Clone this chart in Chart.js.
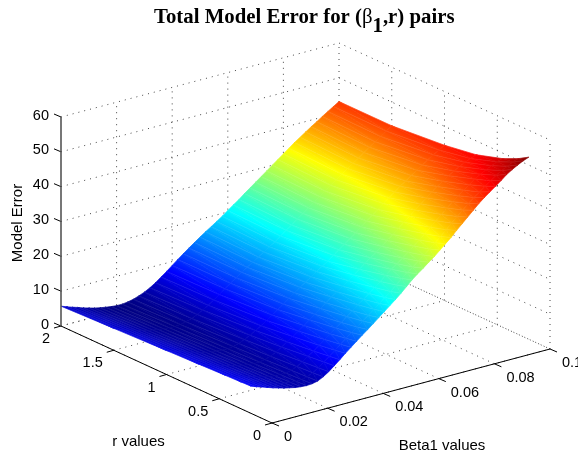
<!DOCTYPE html>
<html>
<head>
<meta charset="utf-8">
<title>Total Model Error</title>
<script src="https://cdn.jsdelivr.net/npm/chart.js@4/dist/chart.umd.min.js"></script>
<style>
  html, body { margin: 0; padding: 0; background: #fff; }
  canvas { display: block; }
</style>
</head>
<body>
<canvas id="chart" width="578" height="456"></canvas>
<script>
// values
const betaValues = [
  0, 0.002, 0.004, 0.006, 0.008, 0.01, 0.012, 0.014, 0.016, 0.018,
  0.02, 0.022, 0.024, 0.026, 0.028, 0.03, 0.032, 0.034, 0.036, 0.038,
  0.04, 0.042, 0.044, 0.046, 0.048, 0.05, 0.052, 0.054, 0.056, 0.058,
  0.06, 0.062, 0.064, 0.066, 0.068, 0.07, 0.072, 0.074, 0.076, 0.078,
  0.08, 0.082, 0.084, 0.086, 0.088, 0.09, 0.092, 0.094, 0.096, 0.098, 0.1
];
const rValues = [0.2, 0.3, 0.45, 0.7, 1, 1.5, 2];
// one row per beta value, one column per r value
const modelError = [
  [7.8, 7.67, 7.51, 7.21, 6.88, 6.29, 5.7],
  [7.2, 7.07, 6.91, 6.61, 6.28, 5.69, 5.1],
  [6.7, 6.57, 6.4, 6.1, 5.75, 5.15, 4.55],
  [6.15, 6.02, 5.86, 5.56, 5.23, 4.64, 4.05],
  [5.6, 5.47, 5.31, 5.01, 4.68, 4.09, 3.5],
  [5.15, 5.02, 4.86, 4.56, 4.23, 3.64, 3.05],
  [4.7, 4.57, 4.41, 4.11, 3.78, 3.19, 2.6],
  [4.35, 4.22, 4.06, 3.76, 3.43, 2.84, 2.25],
  [4.0, 3.88, 3.72, 3.44, 3.12, 2.56, 2.0],
  [3.8, 3.68, 3.51, 3.23, 2.9, 2.32, 1.75],
  [3.7, 3.57, 3.41, 3.11, 2.78, 2.19, 1.6],
  [3.8, 3.65, 3.45, 3.12, 2.74, 2.13, 1.6],
  [4.15, 3.99, 3.75, 3.35, 2.93, 2.27, 1.8],
  [4.95, 4.75, 4.45, 3.91, 3.38, 2.63, 2.15],
  [6.0, 5.74, 5.37, 4.71, 4.09, 3.2, 2.7],
  [7.3, 6.98, 6.51, 5.72, 4.93, 3.9, 3.35],
  [8.6, 8.2, 7.63, 6.75, 5.83, 4.73, 4.2],
  [10.0, 9.52, 8.85, 7.89, 6.78, 5.68, 5.2],
  [11.3, 10.81, 10.08, 9.05, 7.87, 6.79, 6.4],
  [12.6, 12.05, 11.25, 10.2, 9.0, 7.9, 7.6],
  [13.9, 13.3, 12.5, 11.4, 10.15, 9.15, 8.9],
  [15.1, 14.46, 13.68, 12.55, 11.33, 10.3, 10.15],
  [16.4, 15.76, 14.93, 13.8, 12.53, 11.5, 11.4],
  [17.7, 17.01, 16.18, 15.0, 13.73, 12.6, 12.6],
  [19.0, 18.3, 17.45, 16.2, 14.85, 13.6, 13.75],
  [20.3, 19.52, 18.64, 17.28, 15.88, 14.65, 14.9],
  [21.6, 20.79, 19.87, 18.47, 17.01, 15.73, 16.0],
  [23.0, 22.13, 21.14, 19.64, 18.07, 16.76, 17.05],
  [24.5, 23.56, 22.48, 20.85, 19.15, 17.79, 18.1],
  [26.0, 24.98, 23.82, 22.06, 20.22, 18.86, 19.2],
  [27.3, 26.28, 25.12, 23.36, 21.52, 20.06, 20.4],
  [28.5, 27.47, 26.29, 24.5, 22.64, 21.26, 21.6],
  [29.8, 28.74, 27.53, 25.68, 23.77, 22.35, 22.7],
  [31.0, 29.95, 28.76, 26.94, 25.05, 23.65, 24.0],
  [32.4, 31.32, 30.1, 28.22, 26.28, 24.84, 25.2],
  [33.8, 32.69, 31.43, 29.51, 27.51, 26.03, 26.4],
  [35.2, 34.06, 32.77, 30.79, 28.74, 27.22, 27.6],
  [36.8, 35.6, 34.24, 32.16, 30.0, 28.4, 28.8],
  [38.3, 37.06, 35.64, 33.49, 31.25, 29.59, 30.0],
  [39.8, 38.51, 37.05, 34.81, 32.49, 30.77, 31.2],
  [41.3, 39.97, 38.45, 36.14, 33.74, 31.96, 32.4],
  [42.8, 41.42, 39.86, 37.46, 34.98, 33.14, 33.6],
  [44.1, 42.71, 41.12, 38.71, 36.2, 34.34, 34.8],
  [45.3, 43.89, 42.29, 39.85, 37.31, 35.43, 35.9],
  [46.5, 45.08, 43.46, 40.99, 38.43, 36.53, 37.0],
  [47.7, 46.26, 44.63, 42.13, 39.54, 37.62, 38.1],
  [49.0, 47.42, 45.63, 43.06, 40.59, 38.7, 39.1],
  [50.0, 48.33, 46.47, 43.92, 41.67, 39.9, 40.2],
  [50.9, 49.15, 47.21, 44.69, 42.66, 41.0, 41.2],
  [51.7, 49.9, 47.9, 45.34, 43.63, 42.1, 42.2],
  [52.3, 50.48, 48.39, 46.02, 44.57, 43.2, 43.2]
];

const betaTicks = [0, 0.02, 0.04, 0.06, 0.08, 0.1];
const betaTickLabels = ['0', '0.02', '0.04', '0.06', '0.08', '0.1'];
const rTicks = [0, 0.5, 1, 1.5, 2];
const rTickLabels = ['0', '0.5', '1', '1.5', '2'];
const zTicks = [0, 10, 20, 30, 40, 50, 60];
const zTickLabels = ['0', '10', '20', '30', '40', '50', '60'];

// oblique view of the box, in canvas pixels
const origin = { x: 272, y: 423 };
const betaVec = { x: 278, y: -74 };  // beta 0 -> 0.1
const rVec = { x: -211, y: -97 };    // r 0 -> 2
const zHeight = 209;                 // z 0 -> 60
const betaMax = 0.1, rMax = 2, zMax = 60;

function project(b, r, z) {
  const u = b / betaMax, v = r / rMax;
  return {
    x: origin.x + u * betaVec.x + v * rVec.x,
    y: origin.y + u * betaVec.y + v * rVec.y - (z / zMax) * zHeight
  };
}

// jet colormap
const jetKnots = [
  [0, [0, 0, 128]],
  [0.125, [0, 0, 255]],
  [0.375, [0, 255, 255]],
  [0.625, [255, 255, 0]],
  [0.875, [255, 0, 0]],
  [1, [128, 0, 0]]
];
function jet(t) {
  t = Math.max(0, Math.min(1, t));
  for (let i = 1; i < jetKnots.length; i++) {
    if (t <= jetKnots[i][0]) {
      const a = jetKnots[i - 1], c = jetKnots[i];
      const f = (t - a[0]) / (c[0] - a[0]);
      const rgb = a[1].map((v, k) => Math.round(v + (c[1][k] - v) * f));
      return `rgb(${rgb[0]},${rgb[1]},${rgb[2]})`;
    }
  }
  return 'rgb(128,0,0)';
}
const allZ = modelError.flat();
const zLow = Math.min(...allZ), zHigh = Math.max(...allZ);
const colorT = (z) => (z - zLow) / (zHigh - zLow);

// gradient over one triangle, runs along the direction z grows on screen
function triangleFill(chart, tri) {
  const sx = chart.scales.x, sy = chart.scales.y;
  const zs = tri.map((p) => p.z);
  const midZ = (zs[0] + zs[1] + zs[2]) / 3;
  if (!chart.chartArea) return jet(colorT(midZ));
  const pts = tri.map((p) => ({ x: sx.getPixelForValue(p.x), y: sy.getPixelForValue(p.y), z: p.z }));
  const ax = pts[1].x - pts[0].x, ay = pts[1].y - pts[0].y, az = pts[1].z - pts[0].z;
  const bx = pts[2].x - pts[0].x, by = pts[2].y - pts[0].y, bz = pts[2].z - pts[0].z;
  const det = ax * by - ay * bx;
  const zmin = Math.min(...zs), zmax = Math.max(...zs);
  if (Math.abs(det) < 1e-6 || zmax - zmin < 1e-6) return jet(colorT(midZ));
  const gx = (az * by - ay * bz) / det;
  const gy = (ax * bz - az * bx) / det;
  const len2 = gx * gx + gy * gy;
  const low = pts[zs.indexOf(zmin)];
  const k = (zmax - zmin) / len2;
  const grad = chart.ctx.createLinearGradient(low.x, low.y, low.x + gx * k, low.y + gy * k);
  grad.addColorStop(0, jet(colorT(zmin)));
  grad.addColorStop(1, jet(colorT(zmax)));
  jetKnots.forEach(([t]) => {
    const z = zLow + t * (zHigh - zLow);
    if (z > zmin && z < zmax) grad.addColorStop((z - zmin) / (zmax - zmin), jet(t));
  });
  return grad;
}

function pointAt(i, j) {
  const z = modelError[i][j];
  const p = project(betaValues[i], rValues[j], z);
  return { x: p.x, y: p.y, z: z };
}

function triangleDataset(a, c, d) {
  const tri = [a, c, d];
  const paint = (ctx) => triangleFill(ctx.chart, tri);
  return {
    data: [a, c, d, a],
    showLine: true,
    pointRadius: 0,
    fill: 'shape',
    backgroundColor: paint,
    borderColor: paint,
    borderWidth: 0.7
  };
}

function segment(a, c, style) {
  return Object.assign({ data: [a, c], showLine: true, pointRadius: 0, fill: false }, style);
}

const solid = { borderColor: '#000', borderWidth: 1 };
const zAxisLine = { borderColor: '#555', borderWidth: 1.6 };
const dotted = { borderColor: '#444', borderWidth: 1, borderDash: [1, 5] };

// chart.js paints the first dataset on top
const datasets = [];

// axes and tick marks
datasets.push(segment(project(0, rMax, 0), project(0, rMax, zMax), zAxisLine));
datasets.push(segment(project(0, 0, 0), project(0, rMax, 0), solid));
datasets.push(segment(project(0, 0, 0), project(betaMax, 0, 0), solid));
zTicks.forEach((z) => {
  const p = project(0, rMax, z);
  datasets.push(segment(p, { x: p.x - 7, y: p.y - 3 }, solid));
});
rTicks.forEach((r) => {
  const p = project(0, r, 0);
  datasets.push(segment(p, { x: p.x - 7, y: p.y + 2 }, solid));
});
betaTicks.forEach((b) => {
  const p = project(b, 0, 0);
  datasets.push(segment(p, { x: p.x + 7, y: p.y + 3 }, solid));
});

// pale mesh lines along each beta row
betaValues.forEach((b, i) => {
  datasets.push({
    data: rValues.map((r, j) => pointAt(i, j)),
    showLine: true,
    pointRadius: 0,
    fill: false,
    borderColor: 'rgba(255,255,255,0.1)',
    borderWidth: 0.8
  });
});

// surface, near side first
for (let i = 0; i < betaValues.length - 1; i++) {
  for (let j = 0; j < rValues.length - 1; j++) {
    const p00 = pointAt(i, j), p01 = pointAt(i, j + 1);
    const p10 = pointAt(i + 1, j), p11 = pointAt(i + 1, j + 1);
    datasets.push(triangleDataset(p00, p01, p11));
    datasets.push(triangleDataset(p00, p11, p10));
  }
}

// dotted grid on floor and back walls
betaTicks.forEach((b) => {
  datasets.push(segment(project(b, 0, 0), project(b, rMax, 0), dotted));
  if (b > 0) datasets.push(segment(project(b, rMax, 0), project(b, rMax, zMax), dotted));
});
rTicks.forEach((r) => {
  datasets.push(segment(project(0, r, 0), project(betaMax, r, 0), dotted));
  if (r < rMax) datasets.push(segment(project(betaMax, r, 0), project(betaMax, r, zMax), dotted));
});
zTicks.forEach((z) => {
  datasets.push(segment(project(0, rMax, z), project(betaMax, rMax, z), dotted));
  datasets.push(segment(project(betaMax, rMax, z), project(betaMax, 0, z), dotted));
});

const tickFont = '14.5px "Liberation Sans", Arial, sans-serif';
const labelFont = '15px "Liberation Sans", Arial, sans-serif';
const titleFont = 'bold 20.8px "Liberation Serif", serif';

const textPlugin = {
  id: 'axisText',
  afterDraw(chart) {
    const ctx = chart.ctx;
    const sx = chart.scales.x, sy = chart.scales.y;
    const put = (label, p, dx, dy, align) => {
      ctx.textAlign = align;
      ctx.fillText(label, sx.getPixelForValue(p.x) + dx, sy.getPixelForValue(p.y) + dy);
    };
    ctx.save();
    ctx.fillStyle = '#000';
    ctx.font = tickFont;
    ctx.textBaseline = 'middle';
    zTicks.forEach((z, i) => put(zTickLabels[i], project(0, rMax, z), -12, -1.5, 'right'));
    rTicks.forEach((r, i) => put(rTickLabels[i], project(0, r, 0), -11, 13, 'right'));
    betaTicks.forEach((b, i) => put(betaTickLabels[i], project(b, 0, 0), 12, 14, 'left'));

    ctx.font = labelFont;
    ctx.textAlign = 'center';
    ctx.fillText('r values', 138.5, 441.5);
    ctx.fillText('Beta1 values', 442, 446);
    ctx.save();
    ctx.translate(18, 223);
    ctx.rotate(-Math.PI / 2);
    ctx.fillText('Model Error', 0, 0);
    ctx.restore();

    // title, drawn in pieces for the greek letter and the subscript
    const titleParts = [
      { text: 'Total Model Error for (', font: titleFont, dy: 0 },
      { text: 'β', font: '20.8px "Liberation Serif", serif', dy: 0 },
      { text: '1', font: titleFont, dy: 9 },
      { text: ',r) pairs', font: titleFont, dy: 0 }
    ];
    ctx.textAlign = 'left';
    ctx.textBaseline = 'alphabetic';
    let x = 154;
    titleParts.forEach((part) => {
      ctx.font = part.font;
      ctx.fillText(part.text, x, 23 + part.dy);
      x += ctx.measureText(part.text).width;
    });
    ctx.restore();
  }
};

new Chart(document.getElementById('chart'), {
  type: 'scatter',
  data: { datasets: datasets },
  plugins: [textPlugin],
  options: {
    responsive: false,
    animation: false,
    layout: { padding: 0 },
    plugins: { legend: { display: false }, title: { display: false }, tooltip: { enabled: false } },
    scales: {
      x: { type: 'linear', min: 0, max: 578, display: false },
      y: { type: 'linear', min: 0, max: 456, reverse: true, display: false }
    }
  }
});
</script>
</body>
</html>
